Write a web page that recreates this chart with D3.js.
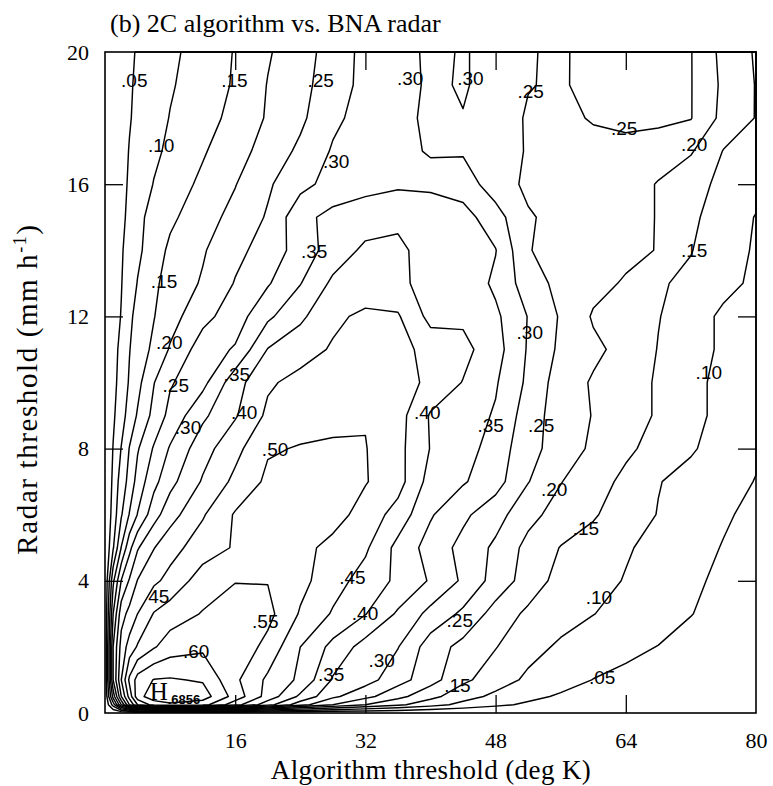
<!DOCTYPE html>
<html lang="en">
<head>
<meta charset="UTF-8">
<title>2C algorithm vs. BNA radar</title>
<script src="https://cdn.jsdelivr.net/npm/d3@7"></script>
<style>
  body { margin: 0; background: #fff; }
  .contour path { fill: none; stroke: #000; stroke-width: 1.45; stroke-linejoin: round; }
  .clabel { font: 19px "Liberation Sans", Arial, sans-serif; text-anchor: middle; dominant-baseline: central; fill: #000; }
  .axis text { font: 22px "Liberation Serif", "Times New Roman", serif; fill: #000; }
  .axis path { stroke: none; }
  .axis line { stroke: #000; stroke-width: 1.3; }
  .frame { fill: none; stroke: #000; stroke-width: 1.6; }
  .title { font: 26px "Liberation Serif", "Times New Roman", serif; fill: #000; }
  .atitle { font: 27px "Liberation Serif", "Times New Roman", serif; fill: #000; }
</style>
</head>
<body>
<svg width="773" height="786"></svg>
<script>
// grid columns (deg K) and rows (mm/h) of the skill score field
const xVals = [0, 1, 2, 3, 4, 6, 8, 12, 16, 20, 24, 28, 32, 36, 40, 44, 48, 52, 56, 60, 64, 68, 72, 76, 80];
const yVals = [0, 0.25, 0.5, 1, 2, 3, 4, 5, 6, 7, 8, 9, 10, 11, 12, 13, 14, 15, 16, 17, 18, 19, 20];

// one row per radar threshold, bottom to top
const r00 = [0, 0, 0, 0, 0, 0, 0, 0, 0, 0, 0, 0, 0, 0, 0, 0, 0, 0, 0, 0, 0, 0, 0, 0, 0];
const r025 = [0, .12, .3, .45, .55, .62, .64, .62, .52, .42, .32, .25, .2, .16, .12, .085, .06, .042, .03, .022, .016, .012, .009, .006, .004];
const r05 = [0, .22, .4, .52, .63, .68, .686, .675, .58, .48, .39, .31, .265, .215, .165, .12, .088, .062, .044, .032, .024, .018, .013, .009, .006];
const r1  = [0, .3, .45, .56, .62, .652, .655, .645, .56, .49, .44, .345, .32, .27, .22, .16, .125, .09, .07, .049, .04, .032, .025, .018, .013];
const r2  = [0, .3, .42, .47, .505, .545, .575, .59, .585, .535, .45, .385, .33, .302, .225, .185, .152, .118, .092, .076, .06, .049, .038, .028, .02];
const r3  = [0, .25, .38, .415, .45, .503, .525, .553, .575, .565, .495, .445, .402, .343, .285, .24, .18, .14, .12, .101, .085, .068, .051, .038, .028];
const r4  = [0, .19, .302, .355, .402, .44, .465, .525, .548, .548, .515, .47, .43, .39, .345, .292, .23, .178, .132, .118, .097, .078, .057, .042, .03];
const r5  = [0, .095, .202, .285, .345, .398, .432, .475, .505, .53, .515, .485, .458, .385, .33, .285, .24, .185, .148, .13, .105, .085, .064, .048, .035];
const r6  = [0, .07, .145, .203, .252, .33, .38, .445, .505, .535, .535, .52, .48, .43, .355, .31, .27, .215, .18, .155, .125, .098, .072, .055, .04];
const r7  = [0, .06, .125, .165, .22, .285, .335, .405, .462, .51, .52, .52, .503, .47, .38, .355, .32, .252, .202, .168, .14, .102, .085, .07, .048];
const r8  = [0, .052, .102, .152, .195, .255, .305, .38, .435, .495, .503, .505, .502, .465, .398, .37, .33, .265, .23, .19, .158, .135, .105, .08, .058];
const r9  = [0, .042, .08, .12, .155, .215, .265, .34, .395, .46, .48, .49, .497, .47, .395, .375, .345, .275, .225, .198, .17, .145, .115, .085, .062];
const r10 = [0, .035, .07, .105, .135, .198, .245, .285, .38, .443, .465, .48, .485, .48, .435, .398, .355, .29, .225, .195, .17, .145, .115, .085, .065];
const r11 = [0, .03, .065, .098, .125, .16, .205, .275, .305, .402, .43, .455, .475, .47, .43, .415, .37, .295, .24, .21, .185, .148, .125, .09, .07];
const r12 = [0, .03, .052, .09, .115, .148, .18, .235, .275, .34, .39, .44, .46, .455, .385, .39, .36, .298, .245, .195, .178, .152, .125, .09, .07];
const r13 = [0, .025, .048, .075, .102, .14, .17, .205, .253, .295, .348, .41, .42, .415, .375, .385, .34, .275, .235, .215, .195, .155, .14, .115, .09];
const r14 = [0, .022, .045, .068, .09, .125, .16, .195, .237, .27, .322, .372, .41, .41, .38, .365, .352, .252, .235, .225, .212, .198, .152, .12, .095];
const r15 = [0, .02, .04, .06, .085, .12, .14, .18, .215, .255, .335, .365, .375, .39, .38, .37, .32, .255, .235, .228, .215, .198, .16, .125, .098];
const r16 = [0, .018, .038, .055, .07, .102, .125, .16, .198, .243, .285, .318, .335, .342, .34, .325, .275, .24, .23, .225, .215, .198, .165, .14, .115];
const r17 = [0, .017, .034, .052, .065, .09, .11, .145, .18, .22, .26, .305, .325, .33, .29, .295, .28, .245, .235, .23, .225, .215, .205, .148, .14];
const r18 = [0, .016, .032, .047, .06, .08, .102, .13, .165, .205, .24, .29, .318, .322, .285, .298, .275, .245, .235, .255, .27, .265, .252, .185, .148];
const r19 = [0, .015, .03, .045, .057, .075, .095, .125, .155, .202, .235, .275, .315, .325, .29, .305, .28, .252, .244, .266, .28, .27, .252, .19, .148];
const r20 = [0, .015, .03, .04, .055, .07, .09, .12, .153, .195, .23, .27, .315, .33, .285, .305, .28, .253, .243, .268, .28, .27, .252, .185, .145];

const rows = [r00, r025, r05, r1, r2, r3, r4, r5, r6, r7, r8, r9, r10, r11, r12, r13, r14, r15, r16, r17, r18, r19, r20];

const levels = [.05, .10, .15, .20, .25, .30, .35, .40, .45, .50, .55, .60, .65];

// contour labels as printed on the figure
const labelText = ['.05', '.15', '.25', '.30', '.30', '.25', '.10', '.30', '.25', '.20', '.35', '.15', '.15', '.20', '.30', '.25', '.35', '.10', '.30', '.40', '.40', '.35', '.25', '.50', '.20', '.15', '.45', '.10', '.40', '.55', '.25', '.30', '.60', '.35', '.05', '.15', '45'];
const labelX = [3.6, 15.9, 26.5, 37.5, 44.9, 52.3, 6.9, 28.4, 63.8, 72.4, 25.7, 7.25, 72.4, 7.9, 52.2, 8.7, 16.2, 74.2, 10.2, 17.1, 39.6, 47.4, 53.6, 20.9, 55.2, 59.1, 30.4, 60.7, 31.95, 19.7, 43.6, 34.0, 11.2, 27.8, 61.1, 43.3, 6.6];
const labelY = [19.15, 19.15, 19.15, 19.2, 19.2, 18.8, 17.16, 16.7, 17.7, 17.2, 13.95, 13.07, 14.0, 11.2, 11.5, 9.9, 10.25, 10.3, 8.65, 9.1, 9.1, 8.7, 8.7, 7.96, 6.75, 5.57, 4.1, 3.5, 3.0, 2.78, 2.8, 1.6, 1.85, 1.15, 1.06, 0.82, 3.54];

const svg = d3.select('svg');

const x = d3.scaleLinear().domain([0, 80]).range([105, 756]);
const y = d3.scaleLinear().domain([0, 20]).range([713, 52]);

// grid position -> data value (grid point i sits at i + 0.5 in contour space)
const gx = d3.scaleLinear().domain(xVals.map((d, i) => i + 0.5)).range(xVals).clamp(true);
const gy = d3.scaleLinear().domain(yVals.map((d, i) => i + 0.5)).range(yVals).clamp(true);

const values = rows.flat();
const contours = d3.contours()
  .size([xVals.length, yVals.length])
  .thresholds(levels)(values);

const proj = d3.geoTransform({
  point: function(px, py) { this.stream.point(x(gx(px)), y(gy(py))); }
});
const path = d3.geoPath(proj);

svg.append('g')
  .attr('class', 'contour')
  .selectAll('path')
  .data(contours)
  .enter()
  .append('path')
  .attr('d', path);

// axes, ticks inward on all four sides
svg.append('g')
  .attr('class', 'axis')
  .attr('transform', 'translate(0,713)')
  .call(d3.axisBottom(x).tickValues([16, 32, 48, 64, 80]).tickSize(-18).tickPadding(19));

svg.append('g')
  .attr('class', 'axis')
  .attr('transform', 'translate(0,52)')
  .call(d3.axisTop(x).tickValues([16, 32, 48, 64]).tickSize(-18).tickFormat(''));

svg.append('g')
  .attr('class', 'axis')
  .attr('transform', 'translate(105,0)')
  .call(d3.axisLeft(y).tickValues([0, 4, 8, 12, 16, 20]).tickSize(-18).tickPadding(16));

svg.append('g')
  .attr('class', 'axis')
  .attr('transform', 'translate(756,0)')
  .call(d3.axisRight(y).tickValues([4, 8, 12, 16]).tickSize(-18).tickFormat(''));

svg.selectAll('.axis .tick')
  .filter(d => d === 0 || d === 20 || d === 80)
  .select('line')
  .remove();

svg.append('rect')
  .attr('class', 'frame')
  .attr('x', x(0))
  .attr('y', y(20))
  .attr('width', x(80) - x(0))
  .attr('height', y(0) - y(20));

// contour labels
svg.append('g')
  .selectAll('text')
  .data(labelText)
  .enter()
  .append('text')
  .attr('class', 'clabel')
  .attr('x', (d, i) => x(labelX[i]))
  .attr('y', (d, i) => y(labelY[i]))
  .text(d => d);

// maximum marker
svg.append('text')
  .attr('x', x(5.5))
  .attr('y', y(0.38))
  .style('font', '25px "Liberation Serif", serif')
  .text('H');
svg.append('text')
  .attr('x', x(7.7))
  .attr('y', y(0.28))
  .style('font', 'bold 13px "Liberation Sans", sans-serif')
  .text('.6856');

// titles
svg.append('text')
  .attr('class', 'title')
  .attr('x', 110)
  .attr('y', 32)
  .text('(b) 2C algorithm vs. BNA radar');

svg.append('text')
  .attr('class', 'atitle')
  .attr('x', 431)
  .attr('y', 779)
  .attr('text-anchor', 'middle')
  .style('letter-spacing', '0.4px')
  .text('Algorithm threshold (deg K)');

const yt = svg.append('text')
  .attr('class', 'atitle')
  .attr('transform', 'translate(37,389) rotate(-90)')
  .attr('text-anchor', 'middle')
  .style('font-size', '29px')
  .style('letter-spacing', '1.6px');
yt.append('tspan').text('Radar threshold (mm h');
yt.append('tspan').attr('dy', -11).style('font-size', '18px').text('-1');
yt.append('tspan').attr('dy', 11).text(')');
</script>
</body>
</html>
